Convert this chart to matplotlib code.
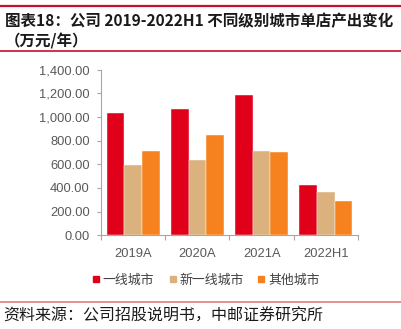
import matplotlib
matplotlib.use("Agg")
import matplotlib.pyplot as plt
import numpy as np
from matplotlib.lines import Line2D

categories = ["2019A", "2020A", "2021A", "2022H1"]
series_names = ["一线城市", "新一线城市", "其他城市"]
tier1 = [1034, 1065, 1189, 428]
new_tier1 = [594, 634, 713, 364]
others = [710, 848, 702, 290]
yticks = [0, 200, 400, 600, 800, 1000, 1200, 1400]

colors = ["#e1001a", "#dbb27d", "#f5821f"]
cjk = ["Noto Sans CJK SC", "DejaVu Sans"]
num_font = "Liberation Sans"

fig = plt.figure(figsize=(4.02, 3.29), dpi=100)
W, H = 402, 329
ax = fig.add_axes([101 / W, 1 - 235.3 / H, 257 / W, (235.3 - 69.7) / H])

x = np.arange(len(categories))
bw = 0.275
for i, (vals, c) in enumerate(zip([tier1, new_tier1, others], colors)):
    ax.bar(x + (i - 1) * bw, vals, width=bw, color=c, edgecolor="white",
           linewidth=0.3, label=series_names[i], zorder=2)

ax.set_xlim(-0.5, len(categories) - 0.5)
ax.set_ylim(0, 1400)
ax.set_yticks(yticks)
ax.set_yticklabels([f"{v:,.2f}" for v in yticks], fontfamily=num_font,
                   fontsize=9.3, color="#595959")
ax.set_xticks(x)
ax.set_xticklabels(categories, fontfamily=num_font, fontsize=9.3, color="#595959")
ax.set_xticks(np.arange(len(categories) + 1) - 0.5, minor=True)
ax.tick_params(axis="x", which="major", length=0, pad=9)
ax.tick_params(axis="x", which="minor", length=3.5, color="#a6a6a6", width=0.8)
ax.tick_params(axis="y", length=3, color="#a6a6a6", width=0.8, pad=5)
for s in ["top", "right"]:
    ax.spines[s].set_visible(False)
for s in ["left", "bottom"]:
    ax.spines[s].set_color("#a6a6a6")
    ax.spines[s].set_linewidth(0.8)

# legend
handles = [Line2D([0], [0], marker="s", linestyle="none", markersize=4.5,
                  markerfacecolor=c, markeredgecolor=c) for c in colors]
leg = fig.legend(handles, series_names, loc="center", bbox_to_anchor=(206 / W, 1 - 280.5 / H),
                 ncol=3, frameon=False, prop={"family": cjk, "size": 9.3},
                 handlelength=0.6, handletextpad=0.2, columnspacing=1.1,
                 labelcolor="#404040")

# title and lines
fig.add_artist(Line2D([0, 1], [1 - 6 / H, 1 - 6 / H], color="#c8102e", linewidth=1.6))
fig.text(5 / W, 1 - 20.7 / H, "图表18：公司 2019-2022H1 不同级别城市单店产出变化",
         fontfamily=cjk, fontsize=11.2, fontweight="bold", va="center", ha="left",
         color="#1a1a1a")
fig.text(5 / W, 1 - 41 / H, "（万元/年）", fontfamily=cjk, fontsize=11.2,
         fontweight="bold", va="center", ha="left", color="#1a1a1a")
fig.add_artist(Line2D([0, 1], [1 - 50.5 / H, 1 - 50.5 / H], color="#c8102e", linewidth=1.2))

fig.add_artist(Line2D([0, 1], [1 - 302.3 / H, 1 - 302.3 / H], color="#e08a8a", linewidth=1.3))
fig.text(3 / W, 1 - 315.5 / H, "资料来源：公司招股说明书，中邮证券研究所",
         fontfamily=cjk, fontsize=11.5, va="center", ha="left", color="#1a1a1a")

fig.savefig("out.png", dpi=100)
